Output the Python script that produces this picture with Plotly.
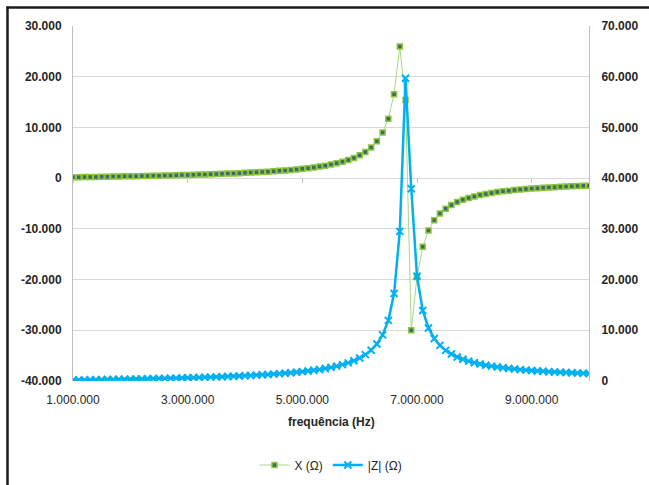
import plotly.graph_objects as go

# Frequency categories (Hz): 1.000.000 ... 10.000.000 in steps of 100.000
freq_hz = [1_000_000 + 100_000 * i for i in range(91)]

# Reactance X (Ω) (left axis)
x_ohm = [
    174, 192, 211, 230, 249, 268, 288, 309, 330, 351,
    373, 395, 418, 442, 467, 492, 518, 545, 574, 603,
    634, 666, 699, 734, 771, 809, 850, 893, 939, 987,
    1039, 1094, 1153, 1216, 1284, 1358, 1438, 1526, 1621, 1726,
    1843, 1972, 2117, 2281, 2467, 2681, 2929, 3221, 3565, 3988,
    4511, 5176, 6051, 7251, 8994, 11735, 16559, 25950, 15390, -30000,
    -19470, -13540, -10310, -8316, -6974, -6012, -5289, -4726, -4275, -3907,
    -3600, -3339, -3117, -2924, -2754, -2605, -2472, -2353, -2246, -2149,
    -2061, -1981, -1907, -1838, -1775, -1717, -1662, -1612, -1564, -1520,
    -1478,
]

# Impedance magnitude |Z| (Ω) (right axis)
z_ohm = [
    174, 192, 211, 230, 249, 268, 288, 309, 330, 351,
    373, 395, 418, 442, 467, 492, 518, 545, 574, 603,
    634, 666, 699, 734, 771, 809, 850, 893, 939, 987,
    1039, 1094, 1153, 1216, 1284, 1358, 1438, 1526, 1621, 1726,
    1843, 1972, 2117, 2281, 2467, 2681, 2929, 3222, 3572, 3996,
    4523, 5195, 6080, 7302, 9092, 11959, 17238, 29510, 59700, 37920,
    20650, 13900, 10460, 8393, 7019, 6041, 5308, 4740, 4286, 3915,
    3606, 3344, 3121, 2927, 2757, 2607, 2474, 2355, 2247, 2150,
    2062, 1982, 1907, 1839, 1776, 1717, 1663, 1612, 1565, 1520,
    1478,
]

x_tickvals = [1_000_000, 3_000_000, 5_000_000, 7_000_000, 9_000_000]
x_ticktext = ["1.000.000", "3.000.000", "5.000.000", "7.000.000", "9.000.000"]

y_left_vals = [-40000, -30000, -20000, -10000, 0, 10000, 20000, 30000]
y_left_text = ["-40.000", "-30.000", "-20.000", "-10.000", "0", "10.000", "20.000", "30.000"]

y_right_vals = [0, 10000, 20000, 30000, 40000, 50000, 60000, 70000]
y_right_text = ["0", "10.000", "20.000", "30.000", "40.000", "50.000", "60.000", "70.000"]

GREEN_LINE = "#a8d88a"
GREEN_EDGE = "#8cc63f"
GREEN_FILL = "#3f6b63"
BLUE = "#00b0f0"
GRID = "#d9d9d9"
AXIS = "#bfbfbf"
TEXT = "#262626"
FONT = "Liberation Sans"

fig = go.Figure()

fig.add_trace(go.Scatter(
    x=freq_hz, y=x_ohm, name="X (Ω)", mode="lines+markers",
    line=dict(color=GREEN_LINE, width=1),
    marker=dict(symbol="square", size=5, color=GREEN_FILL,
                line=dict(color=GREEN_EDGE, width=1.5)),
    xaxis="x", yaxis="y",
))

fig.add_trace(go.Scatter(
    x=freq_hz, y=z_ohm, name="|Z| (Ω)", mode="lines+markers",
    line=dict(color=BLUE, width=2.5),
    marker=dict(symbol="x-thin", size=7, color=BLUE,
                line=dict(color=BLUE, width=2)),
    xaxis="x", yaxis="y2",
))

# helper trace so the secondary x axis (tick marks on the 0 line) is drawn
fig.add_trace(go.Scatter(
    x=[None], y=[None], xaxis="x2", yaxis="y",
    showlegend=False, hoverinfo="skip",
))

W, H = 649, 485
ML, MR, MT, MB = 73, 60, 26, 104
PW, PH = W - ML - MR, H - MT - MB


def px_x(px):
    return (px - ML) / PW


def px_y(py):
    return (MT + PH - py) / PH


fig.update_layout(
    width=W, height=H,
    margin=dict(l=ML, r=MR, t=MT, b=MB, autoexpand=False),
    paper_bgcolor="white", plot_bgcolor="white",
    font=dict(family=FONT, size=12, color=TEXT),
    showlegend=True,
    legend=dict(orientation="h", x=0.5, xanchor="center",
                yref="container", y=(H - 465) / H, yanchor="middle",
                font=dict(size=12, color=TEXT), bgcolor="rgba(0,0,0,0)"),
    xaxis=dict(
        range=[1_000_000, 10_000_000], tickvals=x_tickvals, ticktext=x_ticktext,
        showgrid=False, zeroline=False, showline=False, automargin=False,
        ticks="outside", ticklen=8, tickcolor="rgba(0,0,0,0)",
        tickfont=dict(size=12, color=TEXT),
    ),
    xaxis2=dict(
        overlaying="x", anchor="free", position=4 / 7, side="bottom",
        range=[1_000_000, 10_000_000], tickvals=x_tickvals, automargin=False,
        showticklabels=False, showgrid=False, zeroline=False, showline=False,
        ticks="outside", ticklen=4, tickcolor=AXIS,
    ),
    yaxis=dict(
        range=[-40000, 30000], tickvals=y_left_vals,
        ticktext=["<b>%s</b>" % t for t in y_left_text],
        showgrid=True, gridcolor=GRID, gridwidth=1, zeroline=False,
        showline=True, linecolor=AXIS, linewidth=1, automargin=False,
        ticks="outside", ticklen=8, tickcolor="rgba(0,0,0,0)",
        tickfont=dict(size=12, color=TEXT),
    ),
    yaxis2=dict(
        overlaying="y", side="right", range=[0, 70000], tickvals=y_right_vals,
        ticktext=["<b>%s</b>" % t for t in y_right_text],
        showgrid=False, zeroline=False, automargin=False,
        showline=True, linecolor=AXIS, linewidth=1,
        ticks="outside", ticklen=9, tickcolor="rgba(0,0,0,0)",
        tickfont=dict(size=12, color=TEXT),
    ),
    annotations=[dict(
        text="<b>frequência (Hz)</b>", xref="paper", yref="paper",
        x=0.5, y=px_y(422), xanchor="center", yanchor="middle",
        showarrow=False, font=dict(size=12, color=TEXT),
    )],
    shapes=[
        dict(type="line", xref="paper", yref="paper",
             x0=px_x(7.5), x1=px_x(7.5), y0=px_y(6.5), y1=px_y(485),
             line=dict(color="#1a1a1a", width=2.5)),
        dict(type="line", xref="paper", yref="paper",
             x0=px_x(6.5), x1=px_x(649), y0=px_y(7.5), y1=px_y(7.5),
             line=dict(color="#1a1a1a", width=2.5)),
    ],
)

fig.write_html("out.html")
